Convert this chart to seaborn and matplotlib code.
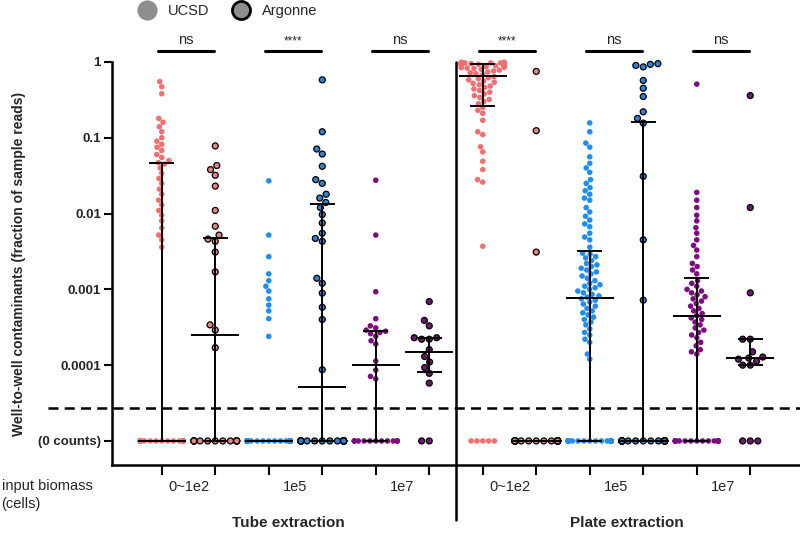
import warnings
import numpy as np
import pandas as pd
import matplotlib
matplotlib.use("Agg")
import matplotlib.pyplot as plt
import matplotlib.transforms as mtransforms
from matplotlib.lines import Line2D
from matplotlib.ticker import NullLocator
import seaborn as sns

warnings.filterwarnings("ignore")

# --- data (0 = zero counts) ---
GROUPS = ["T_U_lo", "T_A_lo", "T_U_mid", "T_A_mid", "T_U_hi", "T_A_hi",
          "P_U_lo", "P_A_lo", "P_U_mid", "P_A_mid", "P_U_hi", "P_A_hi"]
SOURCE = ["UCSD", "Argonne"] * 6
BIOMASS = ["0~1e2", "1e5", "1e7"]
SIGNIF = ["ns", "****", "ns", "****", "ns", "ns"]

t_ucsd_lo = [0.55, 0.47, 0.38, 0.18, 0.16, 0.14, 0.12, 0.10, 0.09, 0.082, 0.075, 0.068,
             0.06, 0.055, 0.05, 0.047, 0.045, 0.04, 0.034, 0.029, 0.025, 0.021, 0.018,
             0.015, 0.013, 0.011, 0.0095, 0.008, 0.0065, 0.0052, 0.0045, 0.0036]
t_arg_lo = [0.078, 0.043, 0.038, 0.032, 0.023, 0.011, 0.0068, 0.0052, 0.0046, 0.0043,
            0.0031, 0.0017, 0.00034, 0.00029, 0.00017]
t_ucsd_mid = [0.027, 0.0052, 0.0027, 0.0016, 0.0013, 0.0011, 0.00095, 0.00075, 0.00062,
              0.00052, 0.00041, 0.00024]
t_arg_mid = [0.58, 0.12, 0.071, 0.061, 0.042, 0.028, 0.025, 0.018, 0.016, 0.014, 0.012,
             0.0097, 0.0075, 0.0055, 0.0047, 0.0043, 0.0014, 0.0012, 0.00089, 0.00058,
             0.0004, 8.7e-5]
t_ucsd_hi = [0.0275, 0.0052, 0.00093, 0.00041, 0.00033, 0.00031, 0.00029, 0.00028, 0.00027,
             0.00026, 0.00024, 0.00021, 0.00019, 0.000113, 8.6e-5, 7.1e-5, 6.6e-5]
t_arg_hi = [0.00069, 0.00039, 0.00033, 0.00023, 0.00023, 0.00022, 0.00022, 0.00016,
            0.00013, 0.00011, 9.3e-5, 7.8e-5, 5.8e-5]
p_ucsd_lo = [0.99, 0.99, 0.98, 0.98, 0.97, 0.97, 0.97, 0.96, 0.96, 0.96, 0.95, 0.95, 0.95,
             0.94, 0.94, 0.94, 0.93, 0.93,
             0.92, 0.91, 0.9, 0.9, 0.89, 0.88, 0.87, 0.86, 0.85, 0.84, 0.83, 0.82, 0.8,
             0.78, 0.76, 0.74, 0.72, 0.7, 0.68,
             0.64, 0.62, 0.6, 0.58, 0.56, 0.54, 0.52, 0.5, 0.48, 0.46, 0.44, 0.42, 0.4,
             0.38, 0.36, 0.34, 0.32, 0.3, 0.28,
             0.25, 0.23, 0.21, 0.17, 0.12, 0.11, 0.076, 0.065, 0.049, 0.038, 0.028, 0.026,
             0.0037]
p_arg_lo = [0.75, 0.124, 0.0031]
p_ucsd_mid = [0.157, 0.12, 0.085, 0.075, 0.056, 0.046, 0.04, 0.035, 0.028, 0.025, 0.022,
              0.02, 0.018, 0.016, 0.015, 0.012, 0.0105, 0.0092, 0.0082, 0.0073, 0.0067,
              0.0055, 0.0049, 0.0045, 0.0036,
              0.003, 0.0029, 0.0027, 0.0026, 0.0024, 0.0022, 0.0021, 0.002, 0.0019, 0.0018,
              0.0017, 0.0016, 0.0015, 0.0014, 0.0013, 0.0012, 0.00115, 0.0011, 0.00105,
              0.001, 0.00095, 0.0009, 0.00086, 0.00082, 0.00079,
              0.00075, 0.00072, 0.00068, 0.00064, 0.0006, 0.00056, 0.00052, 0.00049,
              0.00046, 0.00043, 0.0004, 0.00037, 0.00034, 0.0003, 0.00027, 0.00025,
              0.00022, 0.0002, 0.00014, 0.00012]
p_arg_mid = [0.95, 0.93, 0.9, 0.86, 0.57, 0.45, 0.35, 0.22, 0.18, 0.156, 0.031, 0.0045,
             0.00072]
p_ucsd_hi = [0.51, 0.019, 0.015, 0.012, 0.0095, 0.008, 0.0065, 0.0055, 0.0045, 0.0038,
             0.0033, 0.0027, 0.0022, 0.002, 0.0018, 0.0016,
             0.0013, 0.0012, 0.0011, 0.001, 0.00095, 0.0009, 0.00085, 0.0008, 0.00075,
             0.0007, 0.00065, 0.0006, 0.00056, 0.00052, 0.00048, 0.00045,
             0.00042, 0.0004, 0.00037, 0.00034, 0.00031, 0.00029, 0.00027, 0.00025,
             0.00023, 0.0002, 0.00018, 0.00016, 0.00015, 0.00014]
p_arg_hi = [0.36, 0.012, 0.0009, 0.00022, 0.00022, 0.00015, 0.000128, 0.000124, 0.00012,
            0.000113, 0.0001, 0.0001]

NONZERO = [t_ucsd_lo, t_arg_lo, t_ucsd_mid, t_arg_mid, t_ucsd_hi, t_arg_hi,
           p_ucsd_lo, p_arg_lo, p_ucsd_mid, p_arg_mid, p_ucsd_hi, p_arg_hi]
N_ZERO = [36, 14, 60, 22, 13, 2, 5, 30, 30, 27, 18, 3]

# median / interquartile range as drawn (0 = zero counts)
MEDIAN = [0, 0.00025, 0, 5.1e-5, 0.0001, 0.000148, 0.66, 0, 0.00077, 0, 0.00044, 0.000126]
Q1 = [0, 0, 0, 0, 0, 8.2e-5, 0.265, 0, 0, 0, 0, 0.0001]
Q3 = [0.047, 0.0047, 0, 0.0135, 0.00028, 0.00023, 0.93, 0, 0.0032, 0.163, 0.0014, 0.00022]

ZERO_LEVEL = 1e-5
LOD = 2.7e-5

PALETTE = {"T_U_lo": "#F36F6F", "T_A_lo": "#E58584", "T_U_mid": "#1E8EF5",
           "T_A_mid": "#2C84D6", "T_U_hi": "#7E0C80", "T_A_hi": "#6C1A6C",
           "P_U_lo": "#F36F6F", "P_A_lo": "#E58584", "P_U_mid": "#1E8EF5",
           "P_A_mid": "#2C84D6", "P_U_hi": "#7E0C80", "P_A_hi": "#6C1A6C"}


def lvl(v):
    return v if v > 0 else ZERO_LEVEL


rows = []
for g, src, vals, nz in zip(GROUPS, SOURCE, NONZERO, N_ZERO):
    for v in list(vals) + [0] * nz:
        rows.append({"group": g, "source": src, "value": v, "plot_value": lvl(v)})
df = pd.DataFrame(rows)

sns.set_theme(style="ticks")
plt.rcParams["font.family"] = ["Liberation Sans", "DejaVu Sans"]

fig = plt.figure(figsize=(8, 5.34), dpi=100)
ax = fig.add_axes([0.14, 0.129, 0.86, 0.755])
ax.set_yscale("log")

sns.swarmplot(data=df[df["source"] == "UCSD"], x="group", y="plot_value", order=GROUPS,
              hue="group", palette=PALETTE, size=4, linewidth=0, legend=False, ax=ax)
sns.swarmplot(data=df[df["source"] == "Argonne"], x="group", y="plot_value", order=GROUPS,
              hue="group", palette=PALETTE, size=4.3, linewidth=0.9, edgecolor="black",
              legend=False, ax=ax)
# let the points sitting right at 1 overhang the top edge
for coll in ax.collections:
    if len(coll.get_offsets()) > 0:
        coll.set_clip_on(False)

# median + interquartile range
for i in range(len(GROUPS)):
    lo, hi, med = lvl(Q1[i]), lvl(Q3[i]), lvl(MEDIAN[i])
    if hi != lo:
        ax.vlines(i, lo, hi, color="black", lw=1.4, zorder=4)
        ax.hlines([lo, hi], i - 0.235, i + 0.235, color="black", lw=1.4, zorder=4)
    ax.hlines(med, i - 0.45, i + 0.45, color="black", lw=1.4, zorder=4)

ax.set_xlim(-0.93, 11.93)
ax.set_ylim(4.8e-6, 1)

blend = mtransforms.blended_transform_factory(ax.transData, ax.transAxes)
blend_y = mtransforms.blended_transform_factory(ax.transAxes, ax.transData)

# detection limit
ax.plot([-0.093, 1.0], [LOD, LOD], transform=blend_y, color="black", lw=1.8,
        ls=(0, (4, 2.5)), clip_on=False, zorder=5)
# panel divider
ax.plot([5.5, 5.5], [1.0, -0.136], transform=blend, color="black", lw=1.8,
        clip_on=False, zorder=5)

# significance bars
for k, lab in enumerate(SIGNIF):
    c = 2 * k + 0.45
    ax.plot([c - 0.52, c + 0.52], [1.027, 1.027], transform=blend, color="black",
            lw=2.2, clip_on=False)
    ax.text(c, 1.037, lab, transform=blend, ha="center", va="bottom",
            fontsize=10.5 if lab == "ns" else 8.5)

# axes styling
ax.set_xticks(range(len(GROUPS)), labels=[""] * len(GROUPS))
ax.set_xticks([0.5, 2.5, 4.5, 6.5, 8.5, 10.5], labels=BIOMASS * 2, minor=True)
ax.tick_params(axis="x", which="major", length=7, width=1.5, color="black")
ax.tick_params(axis="x", which="minor", length=0, pad=11, labelsize=10.5)
ax.set_yticks([1e-5, 1e-4, 1e-3, 1e-2, 1e-1, 1],
              labels=["(0 counts)", "0.0001", "0.001", "0.01", "0.1", "1"],
              fontweight="bold", fontsize=9.5)
ax.yaxis.set_minor_locator(NullLocator())
ax.tick_params(axis="y", length=6, width=1.5, color="black", pad=2)
for s in ["top", "right"]:
    ax.spines[s].set_visible(False)
for s in ["left", "bottom"]:
    ax.spines[s].set_linewidth(1.8)
    ax.spines[s].set_color("black")
ax.set_xlabel("")
ax.set_ylabel("Well-to-well contaminants (fraction of sample reads)",
              fontweight="bold", fontsize=10)
ax.yaxis.set_label_coords(-0.125, 0.5)

fig.text(0.002, 1 - 495 / 534, "input biomass\n(cells)", ha="left", va="center",
         fontsize=10.5, linespacing=1.3)
fig.text(0.36, 0.021, "Tube extraction", ha="center", va="center",
         fontweight="bold", fontsize=11)
fig.text(0.783, 0.021, "Plate extraction", ha="center", va="center",
         fontweight="bold", fontsize=11)

handles = [Line2D([], [], ls="", marker="o", ms=13.5, mfc="#8E8E8E", mec="#8E8E8E"),
           Line2D([], [], ls="", marker="o", ms=13, mfc="#8E8E8E", mec="black", mew=2)]
fig.legend(handles, ["UCSD", "Argonne"], loc="center", bbox_to_anchor=(0.285, 0.979),
           ncol=2, frameon=False, fontsize=10.5, handlelength=1.2, handletextpad=0.8,
           columnspacing=1.6)

fig.savefig("out.png", dpi=100)
